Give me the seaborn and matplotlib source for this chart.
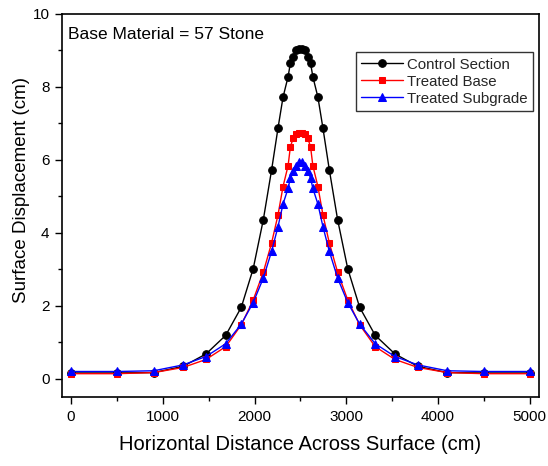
import numpy as np
import pandas as pd
import matplotlib
matplotlib.use("Agg")
import matplotlib.pyplot as plt
from matplotlib.ticker import MultipleLocator
import seaborn as sns

# Mesh positions across the surface (cm), centred on the 2500 cm load line
distance = [0, 500, 900, 1220, 1470, 1685, 1855, 1985, 2095, 2185, 2255,
            2310, 2365, 2390, 2420, 2455, 2485,
            2515, 2545, 2580, 2610, 2635, 2690, 2745, 2815, 2905, 3015,
            3145, 3315, 3530, 3780, 4100, 4500, 5000]

control_section = [0.16, 0.16, 0.17, 0.34, 0.68, 1.19, 1.96, 3.02, 4.36, 5.72,
                   6.87, 7.72, 8.28, 8.65, 8.83, 9.01, 9.03,
                   9.03, 9.01, 8.83, 8.65, 8.28, 7.72, 6.87, 5.72, 4.36, 3.02,
                   1.96, 1.19, 0.68, 0.34, 0.17, 0.16, 0.16]

treated_base = [0.14, 0.14, 0.17, 0.31, 0.53, 0.88, 1.48, 2.16, 2.92, 3.72,
                4.49, 5.27, 5.84, 6.36, 6.59, 6.72, 6.75,
                6.75, 6.72, 6.59, 6.36, 5.84, 5.27, 4.49, 3.72, 2.92, 2.16,
                1.48, 0.88, 0.53, 0.31, 0.17, 0.14, 0.14]

treated_subgrade = [0.20, 0.20, 0.22, 0.38, 0.61, 0.96, 1.50, 2.09, 2.76, 3.49,
                    4.17, 4.79, 5.22, 5.50, 5.70, 5.84, 5.93,
                    5.93, 5.84, 5.70, 5.50, 5.22, 4.79, 4.17, 3.49, 2.76, 2.09,
                    1.50, 0.96, 0.61, 0.38, 0.22, 0.20, 0.20]

series_names = ["Control Section", "Treated Base", "Treated Subgrade"]
series_values = [control_section, treated_base, treated_subgrade]
series_colors = ["black", "#ff0000", "#0000ff"]
series_markers = ["o", "s", "^"]
series_sizes = [5.5, 5, 6]

sns.set_theme(style="white")
plt.rcParams["font.family"] = ["Liberation Sans", "DejaVu Sans"]

fig = plt.figure(figsize=(5.48, 4.66), dpi=100)
ax = fig.add_axes([0.113, 0.148, 0.8706, 0.822])

for name, vals, col, mk, ms in zip(series_names, series_values, series_colors,
                                   series_markers, series_sizes):
    df = pd.DataFrame({"x": distance, "y": vals})
    sns.lineplot(data=df, x="x", y="y", ax=ax, color=col, marker=mk,
                 markersize=ms, markeredgecolor=col, linewidth=1.0,
                 label=name, sort=False, estimator=None)

ax.set_xlim(-100, 5100)
ax.set_ylim(-0.5, 10)
ax.xaxis.set_major_locator(MultipleLocator(1000))
ax.xaxis.set_minor_locator(MultipleLocator(500))
ax.yaxis.set_major_locator(MultipleLocator(2))
ax.yaxis.set_minor_locator(MultipleLocator(1))

ax.tick_params(which="both", direction="out", bottom=True, left=True,
               top=False, right=False, color="black", width=1)
ax.tick_params(which="major", length=5, labelsize=11, labelcolor="black", pad=4)
ax.tick_params(which="minor", length=3)

for s in ax.spines.values():
    s.set_color("black")
    s.set_linewidth(1.2)

ax.set_xlabel("Horizontal Distance Across Surface (cm)", fontsize=14.5, labelpad=8,
              color="black")
ax.set_ylabel("Surface Displacement (cm)", fontsize=13.5, color="black",
              va="center")
ax.yaxis.set_label_coords(-0.084, 0.54)

ax.text(0.012, 0.965, "Base Material = 57 Stone", transform=ax.transAxes,
        fontsize=12.5, ha="left", va="top", color="black")

leg = ax.legend(loc="upper right", bbox_to_anchor=(0.988, 0.9), fontsize=10.8,
                frameon=True, fancybox=False, edgecolor="black", handlelength=2.8,
                handletextpad=0.3, borderpad=0.35, labelspacing=0.2,
                borderaxespad=0.0)
leg.get_frame().set_linewidth(1.0)

fig.savefig("out.png", dpi=100, facecolor="white")
